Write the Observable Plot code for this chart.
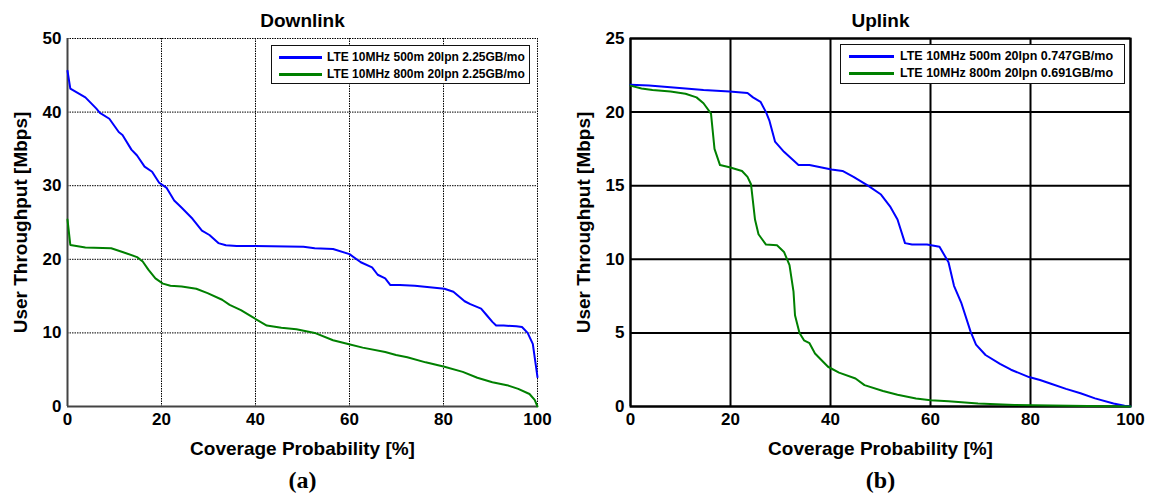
<!DOCTYPE html>
<html><head><meta charset="utf-8">
<script src="https://cdn.jsdelivr.net/npm/d3@7"></script>
<script src="https://cdn.jsdelivr.net/npm/@observablehq/plot@0.6"></script>
<style>
body{margin:0;background:#fff;}
#wrap{position:relative;width:1149px;height:493px;font-family:"Liberation Sans",Arial,sans-serif;background:#fff;}
.panel{position:absolute;top:0;}
.legend{position:absolute;border:1.5px solid #111;background:#fff;box-sizing:border-box;}
.sw{position:absolute;height:3px;}
.lt{position:absolute;font-weight:bold;white-space:nowrap;transform:translateY(-50%);line-height:1;color:#000;}
</style></head><body><div id="wrap"></div>
<script>
// ---- tick labels ----
const xTicks = [0, 20, 40, 60, 80, 100];
const dlYTicks = [0, 10, 20, 30, 40, 50];
const ulYTicks = [0, 5, 10, 15, 20, 25];

// ---- text ----
const titles = ["Downlink", "Uplink"];
const xLabel = "Coverage Probability [%]";
const yLabel = "User Throughput [Mbps]";
const tags = ["(a)", "(b)"];
const dlSeriesNames = ["LTE 10MHz 500m 20lpn 2.25GB/mo", "LTE 10MHz 800m 20lpn 2.25GB/mo"];
const ulSeriesNames = ["LTE 10MHz 500m 20lpn 0.747GB/mo", "LTE 10MHz 800m 20lpn 0.691GB/mo"];
const colors = ["#0000ff", "#008000"];

// ---- Downlink, 500m ----
const dl500X = [0,0.6,3.8,6.1,6.9,8.9,10.9,11.7,13.6,14.8,16.4,18,19.5,21.1,22.7,24.3,26.6,28.6,30.2,32.1,33.7,36,40,50.2,52.6,56.5,60,62.4,64.8,66,67.6,68.7,70.7,73.9,80.2,82.1,84.5,85.7,88,89.2,90.4,91.2,92.8,95.5,96.7,97.9,99,100];
const dl500Y = [45.6,43.2,42,40.5,39.9,39.1,37.3,36.9,34.9,34.1,32.6,31.9,30.4,29.7,28,27,25.5,23.9,23.3,22.2,21.9,21.8,21.8,21.7,21.5,21.4,20.7,19.6,18.9,17.9,17.4,16.5,16.5,16.4,16.0,15.6,14.3,13.9,13.3,12.4,11.5,11.0,11.0,10.9,10.8,10.0,8.5,4.0];
// ---- Downlink, 800m ----
const dl800X = [0,0.6,3.8,9.3,11.7,14.8,16,17.2,18.7,20.3,21.9,24.3,27.4,29.8,32.9,34.5,36.9,39.2,42.4,45.5,48.7,52.6,56.5,59.7,62.8,67.6,69.9,72.3,76.2,80.2,84.1,87.2,90.4,93.5,95.9,98.3,99.4,100];
const dl800Y = [25.4,21.95,21.6,21.5,21.0,20.3,19.7,18.6,17.4,16.7,16.4,16.3,16.0,15.4,14.5,13.8,13.1,12.2,11.0,10.7,10.5,10.0,9.0,8.5,8.0,7.4,7.0,6.7,6.0,5.4,4.7,3.9,3.3,2.9,2.4,1.7,0.9,0];
// ---- Uplink, 500m ----
const ul500X = [0,3.7,11,14.6,19.8,23.4,24.5,26,27.1,27.8,28.9,30.7,33.6,35.8,38,40.2,42.4,44.6,47.5,50.1,51.9,53.4,54.9,56.3,59.3,61.8,63.6,64.7,66.2,68,69.1,71,73.9,76.1,79.7,81.9,84.1,87.1,90,92.9,96.6,98.8,100];
const ul500Y = [21.86,21.8,21.6,21.5,21.4,21.3,21.0,20.7,20,19.4,18.0,17.3,16.4,16.4,16.25,16.1,16.0,15.6,15.0,14.4,13.6,12.7,11.1,11.0,11.0,10.85,9.8,8.2,7.0,5.1,4.2,3.5,2.9,2.5,2.0,1.8,1.55,1.2,0.9,0.55,0.2,0.05,0];
// ---- Uplink, 800m ----
const ul800X = [0,2.2,4.4,8,11,13.2,14.6,16.1,16.8,17.9,19.8,22.3,23.4,24.1,24.9,25.6,27.1,29.3,30.7,31.8,32.6,32.9,33.8,34.7,35.8,36.9,39.5,41.7,45,46.8,50.5,53.4,57.1,60,63.6,69.5,76.8,84.1,91.4,100];
const ul800Y = [21.8,21.6,21.5,21.4,21.25,21.0,20.6,19.9,17.5,16.4,16.25,16.0,15.6,15.1,12.7,11.7,11.0,10.95,10.5,9.6,7.8,6.2,5.0,4.5,4.3,3.6,2.7,2.3,1.9,1.45,1.05,0.8,0.55,0.43,0.36,0.2,0.1,0.06,0.03,0];

const toRows = (xs, ys) => xs.map((x, i) => ({x, y: ys[i]}));

function makePanel({width, ml, mr, title, tag, yTicks, yMax, rows, dotted}) {
  const gridOpts = dotted
    ? {stroke: "#000", strokeOpacity: 1, strokeWidth: 1, strokeDasharray: "1.5,1"}
    : {stroke: "#000", strokeOpacity: 1, strokeWidth: 2};
  const txt = {text: d => d, fontWeight: "bold", fill: "#000"};
  return Plot.plot({
    width, height: 493,
    marginLeft: ml, marginRight: mr, marginTop: 38, marginBottom: 87,
    x: {domain: [0, 100]},
    y: {domain: [0, yMax]},
    style: {fontFamily: "Liberation Sans, Arial, sans-serif", background: "transparent", color: "#000", overflow: "visible"},
    marks: [
      Plot.gridX(xTicks, gridOpts),
      Plot.gridY(yTicks, gridOpts),
      dotted ? Plot.ruleX([0], {stroke: "#444", strokeWidth: 2}) : Plot.frame({stroke: "#000", strokeWidth: 2}),
      dotted ? Plot.ruleY([0], {stroke: "#444", strokeWidth: 2}) : null,
      Plot.axisX(xTicks, {tickSize: 0, tickPadding: 6, fontSize: 17, fontWeight: "bold", label: null}),
      Plot.axisY(yTicks, {tickSize: 0, tickPadding: 6, fontSize: 17, fontWeight: "bold", label: null}),
      Plot.line(rows[0], {x: "x", y: "y", stroke: colors[0], strokeWidth: 2}),
      Plot.line(rows[1], {x: "x", y: "y", stroke: colors[1], strokeWidth: 2}),
      Plot.text([title], {...txt, frameAnchor: "top", dy: -18, fontSize: 19, lineAnchor: "middle"}),
      Plot.text([xLabel], {...txt, frameAnchor: "bottom", dy: 42, fontSize: 19, lineAnchor: "middle"}),
      Plot.text([yLabel], {...txt, frameAnchor: "left", dx: -47, rotate: -90, fontSize: 19, textAnchor: "middle", lineAnchor: "middle"}),
      Plot.text([tag], {...txt, frameAnchor: "bottom", dy: 74, fontSize: 24, lineAnchor: "middle", fontFamily: "Liberation Serif, Times New Roman, serif"})
    ]
  });
}

const wrap = document.getElementById("wrap");

const left = makePanel({width: 560, ml: 67, mr: 23, title: titles[0], tag: tags[0], yTicks: dlYTicks, yMax: 50,
  rows: [toRows(dl500X, dl500Y), toRows(dl800X, dl800Y)], dotted: true});
left.classList.add("panel"); left.style.left = "0px";
wrap.appendChild(left);

const right = makePanel({width: 589, ml: 70, mr: 19, title: titles[1], tag: tags[1], yTicks: ulYTicks, yMax: 25,
  rows: [toRows(ul500X, ul500Y), toRows(ul800X, ul800Y)], dotted: false});
right.classList.add("panel"); right.style.left = "560px";
wrap.appendChild(right);

function addLegend({left, top, w, h, lineX0, lineX1, textX, rowsY, names, fontSize}) {
  const box = document.createElement("div");
  box.className = "legend";
  Object.assign(box.style, {left: left + "px", top: top + "px", width: w + "px", height: h + "px"});
  wrap.appendChild(box);
  names.forEach((name, i) => {
    const sw = document.createElement("div");
    sw.className = "sw";
    Object.assign(sw.style, {left: lineX0 + "px", top: (rowsY[i] - 1.5) + "px", width: (lineX1 - lineX0) + "px", background: colors[i]});
    wrap.appendChild(sw);
    const t = document.createElement("div");
    t.className = "lt";
    t.textContent = name;
    Object.assign(t.style, {left: textX + "px", top: rowsY[i] + "px", fontSize: fontSize + "px"});
    wrap.appendChild(t);
  });
}
addLegend({left: 271, top: 45, w: 259, h: 39, lineX0: 279, lineX1: 322, textX: 327, rowsY: [57, 74], names: dlSeriesNames, fontSize: 12});
addLegend({left: 840, top: 44, w: 285, h: 40, lineX0: 849, lineX1: 894, textX: 900, rowsY: [56, 73], names: ulSeriesNames, fontSize: 12.5});
</script>
</body></html>
